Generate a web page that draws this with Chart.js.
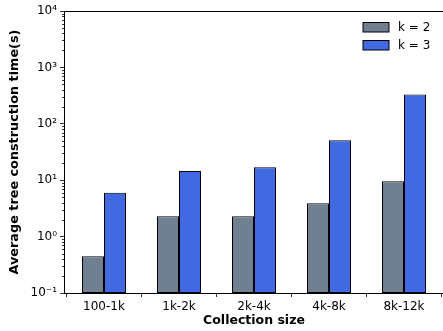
<!DOCTYPE html>
<html><head><meta charset="utf-8">
<script src="https://cdn.jsdelivr.net/npm/chart.js@4/dist/chart.umd.min.js"></script>
<style>
html,body{margin:0;padding:0;background:#fff;overflow:hidden;width:443px;height:331px}
#wrap{width:447px;height:331px;position:relative}
</style></head><body>
<div id="wrap"><canvas id="c"></canvas></div>
<script>
const categories = ['100-1k', '1k-2k', '2k-4k', '4k-8k', '8k-12k'];
const seriesLabels = ['k = 2', 'k = 3'];
const k2Values = [0.45, 2.3, 2.3, 3.9, 9.6];
const k3Values = [6.0, 14.5, 17, 51, 330];
const yTickLabels = {'-1':'10\u207B\u00B9','0':'10\u2070','1':'10\u00B9','2':'10\u00B2','3':'10\u00B3','4':'10\u2074'};

const FONT = 'DejaVu Sans';

const framePlugin = {
  id: 'frame',
  afterDraw(chart) {
    const ctx = chart.ctx, a = chart.chartArea, y = chart.scales.y;
    ctx.save();
    ctx.strokeStyle = '#000';
    ctx.lineWidth = 1;
    ctx.beginPath();
    ctx.moveTo(a.left, Math.round(a.top) + 0.5);
    ctx.lineTo(chart.width, Math.round(a.top) + 0.5);
    ctx.stroke();
    ctx.lineWidth = 0.8;
    for (let e = -1; e < 4; e++) {
      for (let m = 2; m <= 9; m++) {
        const py = Math.round(y.getPixelForValue(m * Math.pow(10, e))) + 0.5;
        ctx.beginPath();
        ctx.moveTo(a.left - 2, py);
        ctx.lineTo(a.left, py);
        ctx.stroke();
      }
    }
    const ds = chart.data.datasets;
    ctx.font = '12px ' + FONT;
    ctx.textBaseline = 'middle';
    ctx.textAlign = 'left';
    ds.forEach((d, i) => {
      const top = 22.5 + i * 18;
      ctx.fillStyle = d.backgroundColor;
      ctx.fillRect(363, top, 26, 9.5);
      ctx.strokeStyle = '#000';
      ctx.lineWidth = 1;
      ctx.strokeRect(363, top, 26, 9.5);
      ctx.fillStyle = '#000';
      ctx.fillText(d.label, 398, top + 5);
    });
    ctx.restore();
  }
};

new Chart(document.getElementById('c'), {
  type: 'bar',
  data: {
    datasets: [
      { label: seriesLabels[0], data: k2Values.map((v, i) => ({x: i, y: v})),
        backgroundColor: '#708090', borderColor: '#000', borderWidth: 1,
        borderSkipped: false, inflateAmount: 0 },
      { label: seriesLabels[1], data: k3Values.map((v, i) => ({x: i, y: v})),
        backgroundColor: '#4169E1', borderColor: '#000', borderWidth: 1,
        borderSkipped: false, inflateAmount: 0 }
    ]
  },
  options: {
    responsive: true,
    maintainAspectRatio: false,
    devicePixelRatio: 1,
    animation: false,
    categoryPercentage: 44 / 75,
    barPercentage: 1.0,
    layout: { padding: { top: 11, right: 3, left: 0, bottom: 0 } },
    plugins: { legend: { display: false }, tooltip: { enabled: false } },
    scales: {
      x: {
        type: 'linear',
        min: -40 / 75,
        max: 4 + 40 / 75,
        offset: false,
        afterBuildTicks: (s) => { s.ticks = categories.map((_, i) => ({ value: i })); },
        afterFit: (s) => { s.height = 38; },
        ticks: {
          autoSkip: false, maxRotation: 0,
          callback: (v) => categories[v] ?? '',
          color: '#000', font: { family: FONT, size: 12 }, padding: 3
        },
        grid: { drawOnChartArea: false, tickLength: 4, tickColor: '#000', tickWidth: 0.8 },
        border: { display: true, color: '#000', width: 1 },
        title: { display: true, text: 'Collection size', color: '#000',
                 font: { family: FONT, size: 12.5, weight: 'bold' }, padding: { top: 0, bottom: 3 } }
      },
      y: {
        type: 'logarithmic',
        min: 0.1,
        max: 10000,
        afterFit: (s) => { s.width = 64; },
        ticks: {
          autoSkip: false,
          callback: (v) => {
            const e = Math.log10(v);
            const r = Math.round(e);
            return Math.abs(e - r) < 1e-6 ? (yTickLabels[String(r)] || '') : '';
          },
          color: '#000', font: { family: FONT, size: 12 }, padding: 3
        },
        grid: {
          drawOnChartArea: false, tickLength: 4, tickWidth: 0.8,
          tickColor: (c) => {
            const v = c.tick && c.tick.value;
            const e = Math.log10(v);
            return Math.abs(e - Math.round(e)) < 1e-6 ? '#000' : 'rgba(0,0,0,0)';
          }
        },
        border: { display: true, color: '#000', width: 1 },
        title: { display: true, text: 'Average tree construction time(s)', color: '#000',
                 font: { family: FONT, size: 12.8, weight: 'bold' }, padding: { top: 7, bottom: 0 } }
      }
    }
  },
  plugins: [framePlugin]
});
</script>
</body></html>
